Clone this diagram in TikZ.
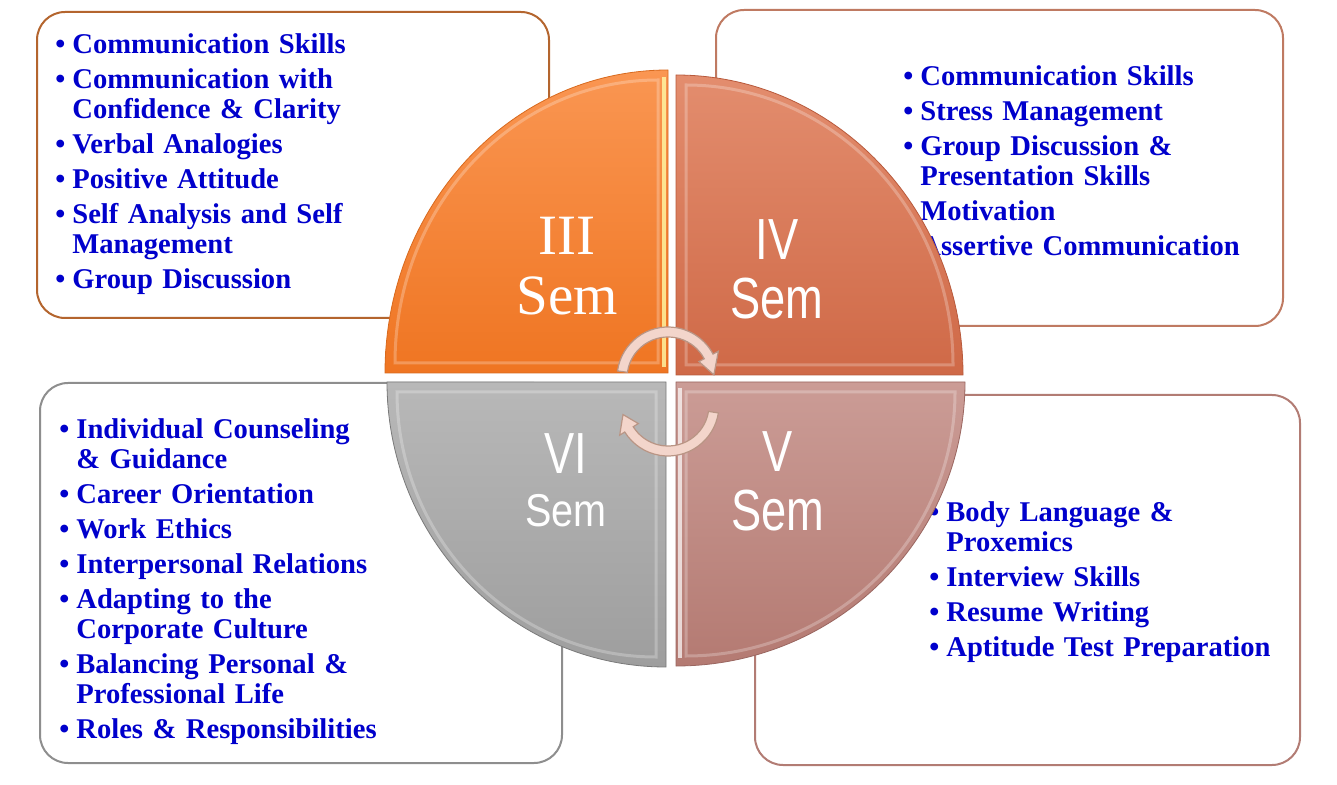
\documentclass[tikz,border=0pt]{standalone}
\usepackage{fontspec}
\setmainfont{Liberation Serif}
\newfontfamily\semfont{Liberation Sans}
\usetikzlibrary{positioning}

\definecolor{listblue}{HTML}{0000CC}
\definecolor{boxthree}{HTML}{B4652E}
\definecolor{boxfour}{HTML}{BF7A62}
\definecolor{boxfive}{HTML}{B27C74}
\definecolor{boxsix}{HTML}{8E8E8E}
\definecolor{semthreetop}{HTML}{FA9652}
\definecolor{semthreebot}{HTML}{EF7522}
\definecolor{semthreeline}{HTML}{D86A1E}
\definecolor{semfourtop}{HTML}{E38D6E}
\definecolor{semfourbot}{HTML}{CF6947}
\definecolor{semfourline}{HTML}{B85A3C}
\definecolor{semfivetop}{HTML}{CB9C96}
\definecolor{semfivebot}{HTML}{B47A72}
\definecolor{semfiveline}{HTML}{9A6660}
\definecolor{semsixtop}{HTML}{B8B8B8}
\definecolor{semsixbot}{HTML}{9E9E9E}
\definecolor{semsixline}{HTML}{7A7A7A}
\definecolor{arrowfill}{HTML}{F3D5CB}
\definecolor{arrowline}{HTML}{B99585}

\newcommand{\listfont}{\fontsize{14.3}{15}\selectfont\bfseries\color{listblue}}
\newcommand{\bitem}[1]{\par\hangindent=8.5pt\hangafter=1\noindent\makebox[8.5pt][l]{\textbullet}#1\par\vspace{2.5pt}}

\begin{document}
\begin{tikzpicture}[
    x=0.5pt, y=0.5pt,
    listbox/.style={fill=white, line width=1pt, rounded corners=14pt},
    listtext/.style={anchor=north west, inner sep=0pt, align=left, font=\listfont},
    glow/.style={white, opacity=0.25, line width=1.5pt},
    semtext/.style={text=white, inner sep=0pt, align=center},
    cyclearrow/.style={fill=arrowfill, draw=arrowline, line width=0.6pt}
]
  \useasboundingbox (0,0) rectangle (1337,-785);

  % boxes behind the circle
  \draw[listbox, draw=boxthree] (37,-12) rectangle (549,-318);
  \draw[listbox, draw=boxfour] (716,-10) rectangle (1283,-326);
  \draw[listbox, draw=boxsix] (40,-383) rectangle (562,-763);
  \draw[listbox, draw=boxfive] (755,-395) rectangle (1300,-765);

  % topic lists
  \node[listtext, text width=200pt] (list3) at (55,-23) {%
    \bitem{Communication Skills}
    \bitem{Communication with\newline Confidence \& Clarity}
    \bitem{Verbal Analogies}
    \bitem{Positive Attitude}
    \bitem{Self Analysis and Self\newline Management}
    \bitem{Group Discussion}};
  \node[listtext, text width=190pt] (list4) at (903,-55) {%
    \bitem{Communication Skills}
    \bitem{Stress Management}
    \bitem{Group Discussion \&\newline Presentation Skills}
    \bitem{Motivation}
    \bitem{Assertive Communication}};
  \node[listtext, text width=180pt] (list5) at (929,-491) {%
    \bitem{Body Language \&\newline Proxemics}
    \bitem{Interview Skills}
    \bitem{Resume Writing}
    \bitem{Aptitude Test Preparation}};
  \node[listtext, text width=180pt] (list6) at (59,-408) {%
    \bitem{Individual Counseling\newline \& Guidance}
    \bitem{Career Orientation}
    \bitem{Work Ethics}
    \bitem{Interpersonal Relations}
    \bitem{Adapting to the\newline Corporate Culture}
    \bitem{Balancing Personal \&\newline Professional Life}
    \bitem{Roles \& Responsibilities}};

  % quarter discs
  \coordinate (c3) at (668,-373);
  \coordinate (c4) at (676,-375);
  \coordinate (c5) at (676,-382);
  \coordinate (c6) at (666,-382);
  \shade[top color=semthreetop, bottom color=semthreebot, draw=semthreeline]
    (c3) -- ++(-283,0) arc[start angle=180, end angle=90, x radius=283, y radius=303] -- cycle;
  \shade[top color=semfourtop, bottom color=semfourbot, draw=semfourline]
    (c4) -- ++(0,300) arc[start angle=90, end angle=0, x radius=287, y radius=300] -- cycle;
  \shade[top color=semfivetop, bottom color=semfivebot, draw=semfiveline]
    (c5) -- ++(289,0) arc[start angle=0, end angle=-90, x radius=289, y radius=284] -- cycle;
  \shade[top color=semsixtop, bottom color=semsixbot, draw=semsixline]
    (c6) -- ++(-279,0) arc[start angle=180, end angle=270, x radius=279, y radius=285] -- cycle;

  % bevel lines
  \draw[glow] ([shift={(-10,10)}]c3) -- ++(-263,0) arc[start angle=180, end angle=90, x radius=263, y radius=283] -- cycle;
  \draw[glow] ([shift={(10,10)}]c4) -- ++(0,280) arc[start angle=90, end angle=0, x radius=267, y radius=280] -- cycle;
  \draw[glow] ([shift={(10,-10)}]c5) -- ++(269,0) arc[start angle=0, end angle=-90, x radius=269, y radius=264] -- cycle;
  \draw[glow] ([shift={(-10,-10)}]c6) -- ++(-259,0) arc[start angle=180, end angle=270, x radius=259, y radius=265] -- cycle;
  \draw[yellow!35!white, opacity=0.8, line width=2pt] ([shift={(-4,6)}]c3) -- ++(0,290);
  \draw[white, opacity=0.7, line width=2pt] ([shift={(4,-6)}]c5) -- ++(0,-270);

  % semester labels
  \node[semtext, font=\fontsize{28.5}{30}\selectfont] (sem3) at (567,-266) {III\\Sem};
  \node[semtext, font=\semfont\fontsize{29}{29.5}\selectfont] (sem4) at (777,-269) {\scalebox{0.78}[1]{IV}\\\scalebox{0.78}[1]{Sem}};
  \node[semtext, font=\semfont\fontsize{29}{29.5}\selectfont] (sem5) at (778,-481) {\scalebox{0.78}[1]{V}\\\scalebox{0.78}[1]{Sem}};
  \node[semtext, font=\semfont\fontsize{29}{26.5}\selectfont] (sem6) at (566,-480) {\scalebox{0.78}[1]{VI}\\{\fontsize{23}{23}\selectfont\scalebox{0.86}[1]{Sem}}};

  % cycle arrows in the centre
  \coordinate (a1) at (668,-378);
  \coordinate (a2) at (668,-405);
  \draw[cyclearrow] ([shift={(172:51)}]a1) arc[start angle=172, end angle=28, radius=51]
    -- ([shift={(28:57)}]a1) -- ([shift={(4:46)}]a1) -- ([shift={(28:35)}]a1)
    -- ([shift={(28:41)}]a1) arc[start angle=28, end angle=172, radius=41] -- cycle;
  \draw[cyclearrow] ([shift={(-9:51)}]a2) arc[start angle=-9, end angle=-148, radius=51]
    -- ([shift={(-148:57)}]a2) -- ([shift={(-168:46)}]a2) -- ([shift={(-148:35)}]a2)
    -- ([shift={(-148:41)}]a2) arc[start angle=-148, end angle=-9, radius=41] -- cycle;
\end{tikzpicture}
\end{document}
